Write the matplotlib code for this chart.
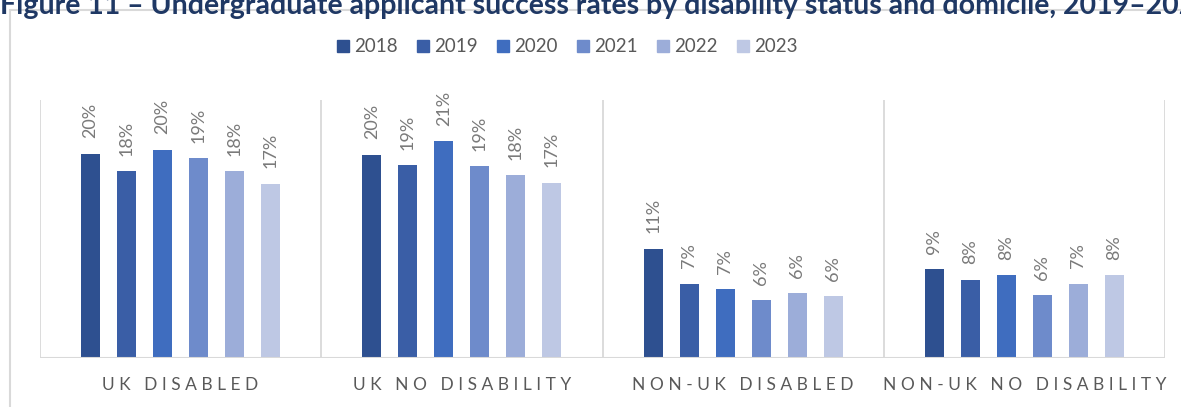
import numpy as np
import matplotlib
matplotlib.use("Agg")
import matplotlib.pyplot as plt
from matplotlib.lines import Line2D
from matplotlib.patches import Rectangle

plt.rcParams['font.family'] = ['Lato', 'DejaVu Sans']

# ---------------------------------------------------------------------------
# Data (success rates, %)
# ---------------------------------------------------------------------------
groups = ['UK DISABLED', 'UK NO DISABILITY', 'NON-UK DISABLED', 'NON-UK NO DISABILITY']
years = ['2018', '2019', '2020', '2021', '2022', '2023']

rate_2018 = [19.8, 19.7, 10.6, 8.6]
rate_2019 = [18.1, 18.7, 7.2, 7.6]
rate_2020 = [20.2, 21.0, 6.7, 8.0]
rate_2021 = [19.4, 18.6, 5.6, 6.1]
rate_2022 = [18.1, 17.7, 6.3, 7.2]
rate_2023 = [16.9, 17.0, 6.0, 8.0]
series = [rate_2018, rate_2019, rate_2020, rate_2021, rate_2022, rate_2023]

colors = ['#2E5090', '#3A5EA6', '#3F6DBF', '#6E8BCB', '#9CADD9', '#BEC8E4']
TEXT_GREY = '#595959'
LABEL_GREY = '#7A7A7A'
LINE_GREY = '#D9D9D9'

W, H = 1181, 407
fig = plt.figure(figsize=(W / 100, H / 100), dpi=100)

# outer chart frame (runs off the right and bottom edge)
fig.patches.append(Rectangle((10 / W, -0.1), 1.2, 1.1 - 10 / H, transform=fig.transFigure,
                             fill=False, edgecolor=LINE_GREY, linewidth=1.5))

# title, cropped at the top/right as in the source screenshot
fig.text(0.0, 1 - 14 / H,
         'Figure 11 \u2013 Undergraduate applicant success rates by disability status and domicile, 2019\u20132023',
         ha='left', va='baseline', fontsize=20.5, fontweight='bold', color='#1F3864')

ax = fig.add_axes([40 / W, 1 - 358 / H, (1165 - 40) / W, (358 - 100) / H])

x = np.arange(len(groups))
step = 36 / 281
bw = 19 / 281
for i, (vals, col, yr) in enumerate(zip(series, colors, years)):
    pos = x + (i - 2.5) * step
    bars = ax.bar(pos, vals, width=bw, color=col, label=yr, zorder=3)
    for b, v in zip(bars, vals):
        ax.annotate(f"{round(v):d}%", (b.get_x() + b.get_width() / 2, v),
                    xytext=(0, 11), textcoords='offset points',
                    rotation=90, ha='center', va='bottom',
                    fontsize=13, color=LABEL_GREY)

ax.set_xlim(-0.5, len(groups) - 0.5)
ax.set_ylim(0, 25)

# category separators and base line
for b in np.arange(-0.5, len(groups), 1.0):
    ax.axvline(b, color=LINE_GREY, linewidth=1.3, zorder=1)
ax.axhline(0, color=LINE_GREY, linewidth=1.5, zorder=4)

for s in ax.spines.values():
    s.set_visible(False)
ax.set_yticks([])
ax.set_xticks([])


def spaced(label):
    # Excel-style letter spacing on category labels
    return '   '.join(' '.join(w) for w in label.split(' '))


for xi, g in zip(x, groups):
    ax.text(xi, -0.105, spaced(g), transform=ax.get_xaxis_transform(),
            ha='center', va='center', fontsize=12.5, color=TEXT_GREY)

handles = [Line2D([], [], marker='s', linestyle='none', markersize=9,
                  markerfacecolor=c, markeredgecolor=c) for c in colors]
fig.legend(handles, years, loc='center', bbox_to_anchor=(567 / W, 1 - 47 / H),
           ncol=6, frameon=False, fontsize=13.5, handlelength=0.7,
           handletextpad=0.25, columnspacing=1.0, labelcolor=TEXT_GREY)

fig.savefig('out.png', dpi=100)
